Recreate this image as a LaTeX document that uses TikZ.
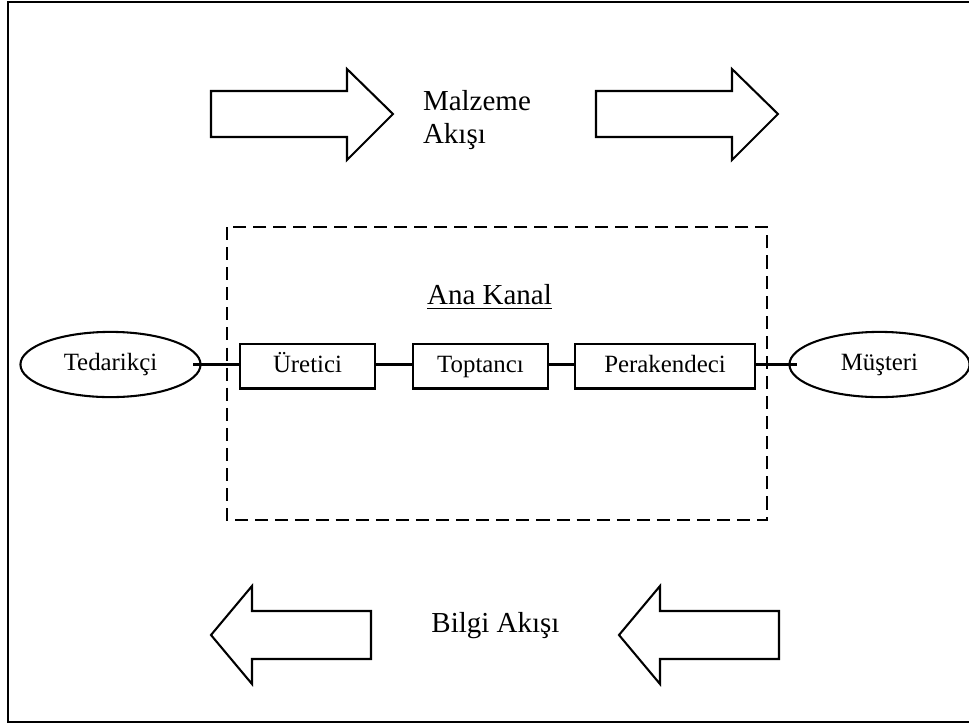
\documentclass[tikz,border=0pt]{standalone}
\usepackage{fontspec}
\setmainfont{Liberation Serif}
\usetikzlibrary{shapes.geometric}

\tikzset{every picture/.style={line width=1pt}}
\tikzset{
	actor/.style={draw, ellipse, inner sep=0pt, minimum width=87pt, minimum height=31.5pt, text height=8.5pt, text depth=2.5pt, font=\fontsize{12}{14}\selectfont},
	member/.style={draw, rectangle, inner sep=0pt, minimum width=65.2pt, minimum height=21.7pt, text height=8.5pt, text depth=2.5pt, font=\fontsize{12}{14}\selectfont},
	flowlabel/.style={inner sep=0pt, font=\fontsize{14}{16.4}\selectfont},
	blockarrow/.style={line join=miter},
}

\begin{document}
\begin{tikzpicture}[x=0.75pt,y=0.75pt,yscale=-0.644,xscale=0.644]
	%set diagram left start at 0, and has size of 969 x 726
	\useasboundingbox (0,0) rectangle (969,726);

	%Shape: Rectangle [frame]
	\draw  [line width=1.3pt]  (8,2) rectangle (985,722) ;
	%Shape: Right Arrow [material, left]
	\draw  [blockarrow]  (211,91) -- (347,91) -- (347,69) -- (393,114) -- (347,160) -- (347,137) -- (211,137) -- cycle ;
	%Shape: Right Arrow [material, right]
	\draw  [blockarrow]  (596,91) -- (732,91) -- (732,69) -- (778,114) -- (732,160) -- (732,137) -- (596,137) -- cycle ;
	%Shape: Left Arrow [information, left]
	\draw  [blockarrow]  (371,611) -- (252,611) -- (252,586) -- (211,635) -- (252,684) -- (252,659) -- (371,659) -- cycle ;
	%Shape: Left Arrow [information, right]
	\draw  [blockarrow]  (779,611) -- (660,611) -- (660,586) -- (619,635) -- (660,684) -- (660,659) -- (779,659) -- cycle ;
	%Shape: Rectangle [channel]
	\draw  [dash pattern={on 6.3pt off 3.4pt}]  (227,227) rectangle (767,520) ;

	% Text Node
	\node [flowlabel, anchor=west, align=left] (malzeme) at (422,120) {Malzeme\\Akışı};
	% Text Node
	\node [flowlabel] (bilgi) at (495.5,626) {Bilgi Akışı};
	% Text Node
	\node [flowlabel] (anakanal) at (489.5,297) {\underline{Ana Kanal}};

	% Ellipse Nodes
	\node [actor] (tedarikci) at (110.5,364.5) {Tedarikçi};
	\node [actor] (musteri) at (879.5,364.5) {Müşteri};
	% Rectangle Nodes
	\node [member] (uretici) at (307.5,366) {Üretici};
	\node [member] (toptanci) at (480.5,366) {Toptancı};
	\node [member, minimum width=86.9pt] (perakendeci) at (665,366) {Perakendeci};

	%Straight Lines
	\draw  [shorten <=-4pt]  (tedarikci.east) -- (uretici.west |- tedarikci.east) ;
	\draw    (uretici.east |- tedarikci.east) -- (toptanci.west |- tedarikci.east) ;
	\draw    (toptanci.east |- tedarikci.east) -- (perakendeci.west |- tedarikci.east) ;
	\draw  [shorten >=-4pt]  (perakendeci.east |- musteri.west) -- (musteri.west) ;

\end{tikzpicture}
\end{document}
